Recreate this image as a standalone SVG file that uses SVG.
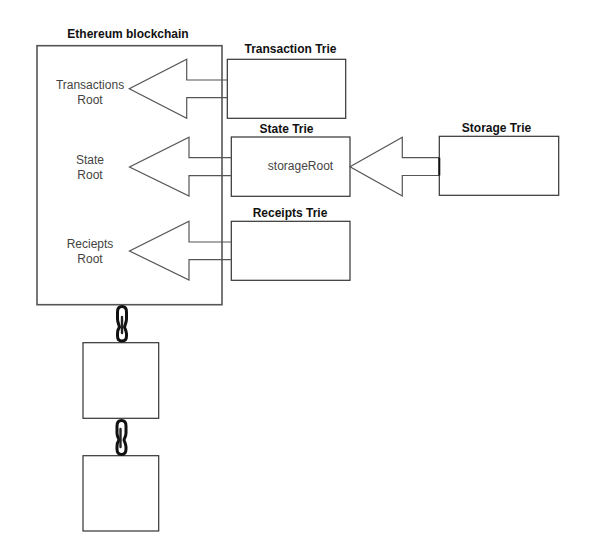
<svg xmlns="http://www.w3.org/2000/svg" width="594" height="553" viewBox="0 0 594 553">
<style>
.box{fill:#fff;stroke:#333;stroke-width:1.2}
.main{fill:#fff;stroke:#555;stroke-width:1.6}
.arrow{fill:none;stroke:#555;stroke-width:1.2;stroke-linejoin:miter}
.link{fill:none;stroke:#111;stroke-width:3}
.bar{fill:none;stroke:#222;stroke-width:2.4;stroke-linecap:round}
text{font-family:"Liberation Sans",Arial,sans-serif;text-anchor:middle}
.t{font-size:12px;font-weight:bold;fill:#111}
.l{font-size:12px;fill:#444}
</style>
<rect width="594" height="553" fill="#fff"/>
<g id="blockchain">
<rect class="main" x="37" y="45.7" width="185" height="259"/>
<text class="t" x="128" y="37.5">Ethereum blockchain</text>
<text class="l" x="90" y="88.5">Transactions</text>
<text class="l" x="90" y="103.5">Root</text>
<text class="l" x="90" y="163.5">State</text>
<text class="l" x="90" y="178.5">Root</text>
<text class="l" x="90" y="248">Reciepts</text>
<text class="l" x="90" y="263">Root</text>
</g>
<g id="transaction-trie">
<rect class="box" x="227.3" y="59.3" width="118.4" height="59"/>
<text class="t" x="290.5" y="52.5">Transaction Trie</text>
</g>
<g id="state-trie">
<rect class="box" x="231.3" y="137" width="118.7" height="59.3"/>
<text class="t" x="286.5" y="132.5">State Trie</text>
<text class="l" x="300.5" y="170">storageRoot</text>
</g>
<g id="receipts-trie">
<rect class="box" x="231.3" y="221.3" width="118.7" height="59"/>
<text class="t" x="290" y="216.5">Receipts Trie</text>
</g>
<g id="storage-trie">
<rect class="box" x="439.3" y="136.3" width="119.4" height="59"/>
<text class="t" x="496.5" y="131.7">Storage Trie</text>
</g>
<g id="block-2"><rect class="box" x="83" y="342.7" width="75.7" height="75.6"/></g>
<g id="block-3"><rect class="box" x="83" y="455.7" width="75.7" height="75.3"/></g>
<g id="connectors">
<path class="arrow" d="M227.3 80H186.7V59.3L129.3 88.7 186.7 118.3V97.7H227.3"/>
<path class="arrow" d="M231.3 157.7H189V137.3L129.5 167 189 196V175.7H231.3"/>
<path class="arrow" d="M231.3 242H189V221.3L129.5 251 189 280V259.7H231.3"/>
<path class="arrow" d="M439.3 157.7H402.3V137.3L350 166.7 402.3 196V175.5H439.3"/>
<path d="M439.3 157.7V175.5" fill="none" stroke="#111" stroke-width="2"/>
<g id="chain-1">
<path class="link" d="M122 306.5C118.5 306.5 117.5 309 117.5 312V319C117.5 322 119 325 119.5 327C118 329 117.5 331 117.5 334V336C117.5 339.5 119 341 122 341C125 341 126.5 339.5 126.5 336V334C126.5 331 125 329 124.5 327C125 325 126.5 322 126.5 319V312C126.5 309 125.5 306.5 122 306.5Z"/>
<path class="bar" d="M122 317V333"/>
</g>
<g id="chain-2">
<path class="link" d="M121.5 420.5C118 420.5 117 423 117 426V433C117 436 118.5 438 119 440C117.5 442 117 444 117 447V449C117 452.5 118.5 454.5 121.5 454.5C124.5 454.5 126 452.5 126 449V447C126 444 124.5 442 124 440C124.5 438 126 436 126 433V426C126 423 125 420.5 121.5 420.5Z"/>
<path class="bar" d="M120.5 429V447"/>
</g>
</g>
</svg>
